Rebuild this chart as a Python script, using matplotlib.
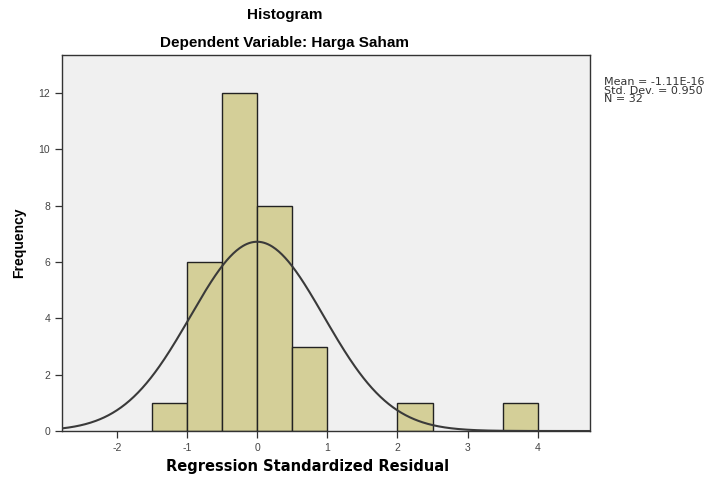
import numpy as np
import matplotlib
matplotlib.use("Agg")
import matplotlib.pyplot as plt

plt.rcParams['font.family'] = ['Liberation Sans', 'DejaVu Sans']

bin_left = [-1.5, -1.0, -0.5, 0.0, 0.5, 2.0, 3.5]
counts = [1, 6, 12, 8, 3, 1, 1]
bin_width = 0.5
mean = -1.11e-16
sd = 0.950
n = 32
xticks = [-2, -1, 0, 1, 2, 3, 4]
yticks = [0, 2, 4, 6, 8, 10, 12]

fig = plt.figure(figsize=(7.14, 4.78), dpi=100)
ax = fig.add_axes([0.0868, 0.0983, 0.7392, 0.7867])
ax.set_facecolor('#F0F0F0')

ax.bar(bin_left, counts, width=bin_width, align='edge', color='#D4CF98',
       edgecolor='#222222', linewidth=1.0, zorder=2)

xs = np.linspace(-2.78, 4.74, 500)
ys = n * bin_width / (sd * np.sqrt(2 * np.pi)) * np.exp(-0.5 * ((xs - mean) / sd) ** 2)
ax.plot(xs, ys, color='#3a3a3a', linewidth=1.5, zorder=3)

ax.set_xlim(-2.78, 4.74)
ax.set_ylim(0, 13.35)
ax.set_xticks(xticks)
ax.set_xticklabels([str(t) for t in xticks])
ax.set_yticks(yticks)
ax.set_yticklabels([str(t) for t in yticks])
ax.tick_params(axis='both', direction='out', length=5, width=0.9, labelsize=7.5,
               colors='#333333', labelcolor='#444444')
for s in ax.spines.values():
    s.set_color('#333333')
    s.set_linewidth(1.0)

ax.set_xlabel('Regression Standardized Residual', fontsize=10.5, fontweight='bold',
              family=['DejaVu Sans'])
ax.xaxis.set_label_coords(0.466, -0.075)
ax.set_ylabel('Frequency', fontsize=10, fontweight='bold')
ax.yaxis.set_label_coords(-0.068, 0.5)

fig.text(0.399, 0.968, 'Histogram', ha='center', va='center', fontsize=11, fontweight='bold')
fig.text(0.399, 0.911, 'Dependent Variable: Harga Saham', ha='center', va='center',
         fontsize=11, fontweight='bold')

fig.text(0.846, 0.81, 'Mean = -1.11E-16\nStd. Dev. = 0.950\nN = 32', ha='left', va='center',
         fontsize=8.0, color='#333333', linespacing=0.8, family=['DejaVu Sans'])

fig.savefig('out.png', dpi=100)
